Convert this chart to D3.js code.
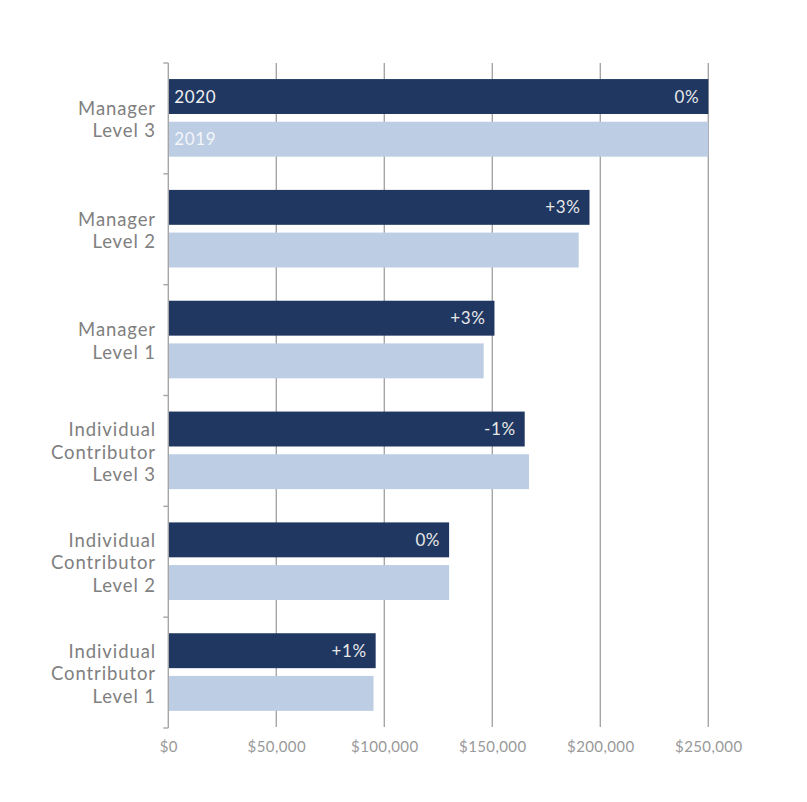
<!DOCTYPE html>
<html><head><meta charset="utf-8">
<script src="https://cdn.jsdelivr.net/npm/d3@7"></script>
<style>body{margin:0;background:#fff}</style>
</head><body>
<svg id="c" width="807" height="802"></svg>
<script>
const categories = [["Manager","Level 3"],["Manager","Level 2"],["Manager","Level 1"],["Individual","Contributor","Level 3"],["Individual","Contributor","Level 2"],["Individual","Contributor","Level 1"]];
const catKeys = ["M3","M2","M1","IC3","IC2","IC1"];
const values2020 = [250000,195000,151000,165000,130000,96000];
const values2019 = [250000,190000,146000,167000,130000,95000];
const changeLabels = ["0%","+3%","+3%","-1%","0%","+1%"];
const xTicks = [0,50000,100000,150000,200000,250000];
const seriesNames = ["2020","2019"];

const svg = d3.select("#c");
const m = {l:168.3, r:708.3, t:63, b:728};
const font = "Lato, 'Noto Sans', sans-serif";
const x = d3.scaleLinear().domain([0,250000]).range([m.l,m.r]);
const y = d3.scaleBand().domain(catKeys).range([m.t,m.b]);
const bandH = y.bandwidth();
const barH = bandH*0.315, top1 = bandH*0.145, top2 = bandH*0.53;

// grid
svg.append("g").selectAll("line").data(xTicks.slice(1)).join("line")
  .attr("x1",d=>x(d)).attr("x2",d=>x(d)).attr("y1",m.t).attr("y2",m.b-1)
  .attr("stroke","#a6a6a6").attr("stroke-width",1.4);

// bars
const g = svg.append("g");
catKeys.forEach((k,i)=>{
  g.append("rect").attr("x",x(0)).attr("y",y(k)+top1).attr("width",x(values2020[i])-x(0)).attr("height",barH).attr("fill","#1f3761");
  g.append("rect").attr("x",x(0)).attr("y",y(k)+top2).attr("width",x(values2019[i])-x(0)).attr("height",barH).attr("fill","#bccde4");
  g.append("text").attr("x",x(values2020[i])-9).attr("y",y(k)+top1+barH/2).attr("dy","0.36em")
    .attr("text-anchor","end").attr("fill","#e8e8e8").attr("font-family",font).attr("font-size",17).attr("letter-spacing",0.6).text(changeLabels[i]);
  const lines = categories[i];
  const lh = 22.5;
  const cy = y(k)+bandH/2+1;
  lines.forEach((t,j)=>{
    g.append("text").attr("x",156).attr("y",cy+(j-(lines.length-1)/2)*lh).attr("dy","0.36em")
      .attr("text-anchor","end").attr("fill","#808080").attr("font-family",font).attr("font-size",18.5).attr("letter-spacing",0.9).text(t);
  });
});
// series labels
g.append("text").attr("x",x(0)+6).attr("y",y("M3")+top1+barH/2).attr("dy","0.36em").attr("fill","#f0f0f0").attr("font-family",font).attr("font-size",17).attr("letter-spacing",0.6).text(seriesNames[0]);
g.append("text").attr("x",x(0)+6).attr("y",y("M3")+top2+barH/2).attr("dy","0.36em").attr("fill","#f4f6fa").attr("font-family",font).attr("font-size",17).attr("letter-spacing",0.6).text(seriesNames[1]);

// y axis
const ya = svg.append("g");
ya.append("line").attr("x1",m.l).attr("x2",m.l).attr("y1",m.t).attr("y2",m.b).attr("stroke","#a6a6a6").attr("stroke-width",1.4);
const bounds = catKeys.map(k=>y(k)).concat([m.b]);
ya.selectAll("line.t").data(bounds).join("line").attr("class","t")
  .attr("x1",m.l-5).attr("x2",m.l).attr("y1",d=>d).attr("y2",d=>d).attr("stroke","#a6a6a6").attr("stroke-width",1.4);

// x axis labels
const xa = svg.append("g").attr("transform",`translate(0,${m.b})`)
  .call(d3.axisBottom(x).tickValues(xTicks).tickSize(0).tickPadding(13).tickFormat(d=>"$"+d3.format(",")(d)));
xa.select(".domain").remove();
xa.selectAll("text").attr("fill","#999999").attr("font-family",font).attr("font-size",15).attr("letter-spacing",0.4);
</script>
</body></html>
